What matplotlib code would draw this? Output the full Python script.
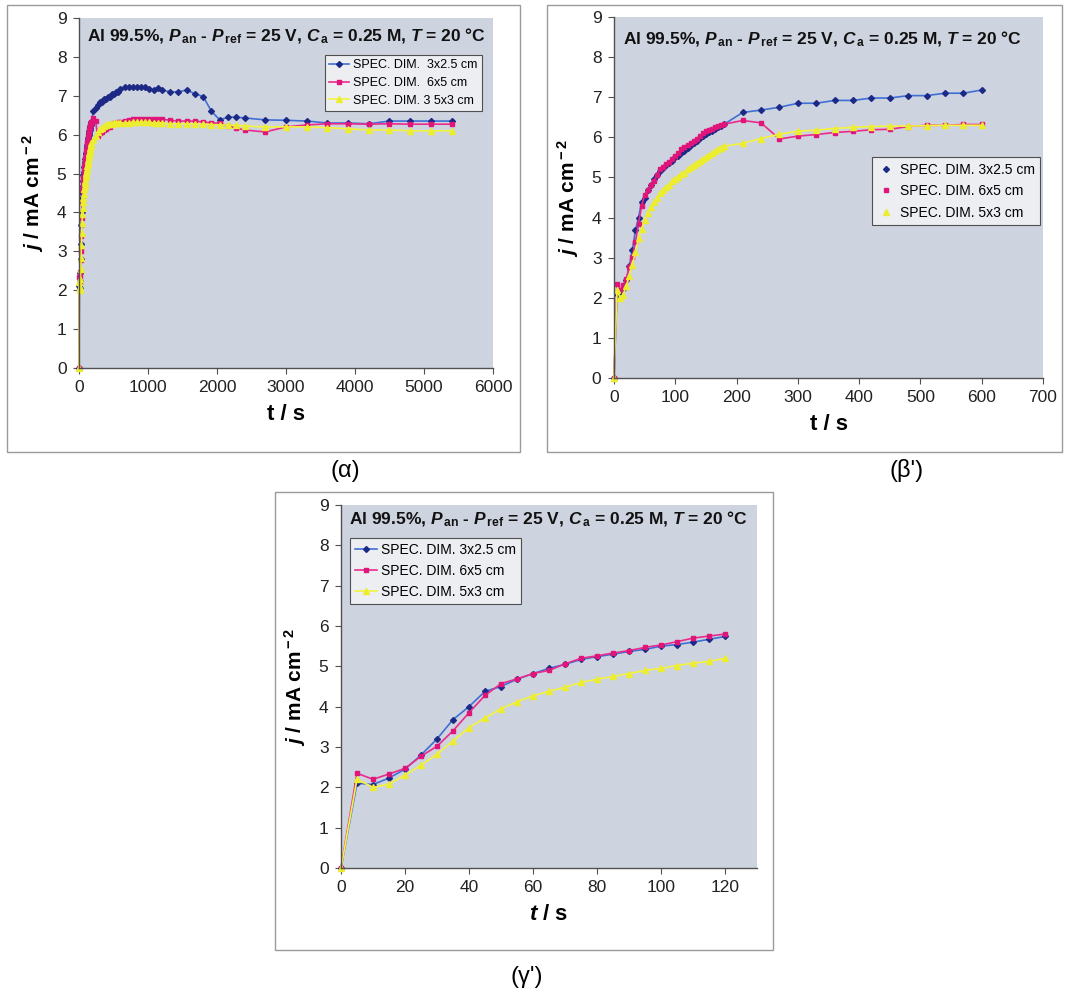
import matplotlib
matplotlib.use("Agg")
import matplotlib.pyplot as plt
from matplotlib.lines import Line2D
from matplotlib.patches import Rectangle

plt.rcParams['font.family'] = ['Liberation Sans', 'DejaVu Sans']
plt.rcParams['mathtext.fontset'] = 'custom'
plt.rcParams['mathtext.rm'] = 'Liberation Sans:bold'
plt.rcParams['mathtext.bf'] = 'Liberation Sans:bold'
plt.rcParams['mathtext.it'] = 'Liberation Sans:italic:bold'

# first 120 s (shared by all runs), 5 s steps
t_short = [0, 5, 10, 15, 20, 25, 30, 35, 40, 45, 50, 55, 60, 65, 70, 75, 80, 85, 90,
           95, 100, 105, 110, 115, 120]
blue_short = [0, 2.1, 2.07, 2.23, 2.45, 2.8, 3.2, 3.68, 4.0, 4.38, 4.5, 4.68, 4.82, 4.95,
              5.05, 5.17, 5.24, 5.3, 5.37, 5.42, 5.5, 5.54, 5.6, 5.67, 5.74]
pink_short = [0, 2.35, 2.2, 2.33, 2.47, 2.77, 3.02, 3.4, 3.85, 4.28, 4.57, 4.69, 4.82, 4.9,
              5.06, 5.2, 5.26, 5.33, 5.39, 5.47, 5.53, 5.61, 5.7, 5.75, 5.8]
yellow_short = [0, 2.2, 2.0, 2.08, 2.3, 2.55, 2.82, 3.15, 3.48, 3.72, 3.95, 4.12, 4.27, 4.38,
                4.48, 4.6, 4.68, 4.75, 4.82, 4.9, 4.95, 5.02, 5.08, 5.12, 5.2]

# 125 - 600 s
t_mid = [125, 130, 135, 140, 145, 150, 155, 160, 165, 170, 175, 180,
         210, 240, 270, 300, 330, 360, 390, 420, 450, 480, 510, 540, 570, 600]
blue_mid = [5.8, 5.86, 5.92, 5.98, 6.04, 6.09, 6.13, 6.17, 6.21, 6.25, 6.29, 6.33,
            6.62, 6.68, 6.75, 6.85, 6.85, 6.92, 6.92, 6.98, 6.98, 7.04, 7.04, 7.1, 7.1, 7.18]
pink_mid = [5.86, 5.92, 5.97, 6.04, 6.1, 6.15, 6.18, 6.22, 6.25, 6.28, 6.3, 6.33,
            6.42, 6.36, 5.96, 6.03, 6.07, 6.12, 6.15, 6.19, 6.2, 6.27, 6.3, 6.3, 6.32, 6.32]
yellow_mid = [5.25, 5.3, 5.36, 5.42, 5.47, 5.52, 5.56, 5.6, 5.65, 5.7, 5.74, 5.78,
              5.85, 5.97, 6.08, 6.15, 6.18, 6.22, 6.25, 6.27, 6.28, 6.28, 6.29, 6.3, 6.3, 6.3]

# 660 - 5400 s
t_long = [660, 720, 780, 840, 900, 960, 1020, 1080, 1140, 1200, 1320, 1440, 1560, 1680,
          1800, 1920, 2040, 2160, 2280, 2400, 2700, 3000, 3300, 3600, 3900, 4200, 4500,
          4800, 5100, 5400]
blue_long = [7.22, 7.23, 7.23, 7.23, 7.23, 7.22, 7.18, 7.15, 7.21, 7.15, 7.1, 7.1, 7.15,
             7.05, 6.98, 6.6, 6.38, 6.45, 6.45, 6.43, 6.38, 6.37, 6.35, 6.3, 6.3, 6.28,
             6.35, 6.35, 6.35, 6.35]
pink_long = [6.36, 6.38, 6.4, 6.4, 6.4, 6.4, 6.4, 6.4, 6.4, 6.4, 6.37, 6.35, 6.35, 6.35,
             6.33, 6.3, 6.3, 6.22, 6.17, 6.12, 6.07, 6.2, 6.25, 6.28, 6.28, 6.27, 6.28,
             6.27, 6.27, 6.27]
yellow_long = [6.3, 6.3, 6.32, 6.32, 6.32, 6.32, 6.32, 6.3, 6.3, 6.3, 6.28, 6.28, 6.28,
               6.28, 6.27, 6.26, 6.25, 6.25, 6.24, 6.22, 6.2, 6.2, 6.2, 6.18, 6.15, 6.12,
               6.12, 6.1, 6.1, 6.1]

labels_a = ["SPEC. DIM.  3x2.5 cm", "SPEC. DIM.  6x5 cm", "SPEC. DIM. 3 5x3 cm"]
labels_bg = ["SPEC. DIM. 3x2.5 cm", "SPEC. DIM. 6x5 cm", "SPEC. DIM. 5x3 cm"]

title = r"Al 99.5%, $P_{\,\rm an}$ - $P_{\,\rm ref}$ = 25 V, $C_{\,\rm a}$ = 0.25 M, $T$ = 20 °C"

line_cols = ['#3f6fd6', '#ea2b8c', '#f4f43c']
mark_cols = ['#1c2a86', '#e0157a', '#eded30']
markers = ['D', 's', '^']
msizes = [3.0, 3.2, 3.8]
bg = '#cdd3df'

W, H = 1074, 992
fig = plt.figure(figsize=(W / 100, H / 100), dpi=100)
fig.patch.set_facecolor('white')


def px_axes(x0, y0, x1, y1):
    return fig.add_axes([x0 / W, 1 - y1 / H, (x1 - x0) / W, (y1 - y0) / H])


def style(ax, xmax, xticks, italic_t, title_y):
    ax.set_facecolor(bg)
    ax.set_xlim(0, xmax)
    ax.set_ylim(0, 9)
    ax.set_xticks(xticks)
    ax.set_yticks(range(10))
    for s in ['top', 'right']:
        ax.spines[s].set_visible(False)
    for s in ['left', 'bottom']:
        ax.spines[s].set_color('#505050')
        ax.spines[s].set_linewidth(1.0)
    ax.tick_params(direction='out', length=4, width=0.8, color='#505050',
                   labelsize=12.5, labelcolor='#222222', pad=5)
    ax.set_ylabel(r"$j$ / mA cm$^{\rm -2}$", fontsize=15, fontweight='bold', labelpad=8)
    ax.set_xlabel(r"$t$ / s" if italic_t else "t / s", fontsize=16, fontweight='bold',
                  labelpad=6)
    ax.text(0.02, title_y, title, transform=ax.transAxes, ha='left', va='top',
            fontsize=12.5, fontweight='bold', color='#111111')


def draw(ax, t, series, labels):
    for i, y in enumerate(series):
        ax.plot(t, y, color=line_cols[i], lw=1.2, marker=markers[i], ms=msizes[i],
                mfc=mark_cols[i], mec=mark_cols[i], label=labels[i], clip_on=False)


def frame(leg):
    leg.get_frame().set_linewidth(0.8)


leg_kw = dict(loc='upper left', borderaxespad=0, fancybox=False, framealpha=1,
              facecolor='#eceef2', edgecolor='#505050')

# (alpha)
ax1 = px_axes(79, 18, 493, 368)
t_a = t_short + t_mid + t_long
draw(ax1, t_a, [blue_short + blue_mid + blue_long,
                pink_short + pink_mid + pink_long,
                yellow_short + yellow_mid + yellow_long], labels_a)
style(ax1, 6000, [0, 1000, 2000, 3000, 4000, 5000, 6000], False, 0.975)
frame(ax1.legend(bbox_to_anchor=(0.594, 0.894), fontsize=9, handlelength=1.6,
                 borderpad=0.35, labelspacing=0.45, handletextpad=0.3, **leg_kw))

# (beta')
ax2 = px_axes(614, 17, 1043, 378)
t_b = t_short + t_mid
draw(ax2, t_b, [blue_short + blue_mid, pink_short + pink_mid,
                yellow_short + yellow_mid], labels_bg)
style(ax2, 700, [0, 100, 200, 300, 400, 500, 600, 700], False, 0.964)
handles = [Line2D([], [], ls='none', marker=markers[i], ms=msizes[i], mfc=mark_cols[i],
                  mec=mark_cols[i]) for i in range(3)]
frame(ax2.legend(handles, labels_bg, bbox_to_anchor=(0.601, 0.612), fontsize=10,
                 handlelength=1.2, borderpad=0.4, labelspacing=0.55, handletextpad=0.4,
                 **leg_kw))

# (gamma')
ax3 = px_axes(341, 505, 757, 868)
draw(ax3, t_short, [blue_short, pink_short, yellow_short], labels_bg)
style(ax3, 130, [0, 20, 40, 60, 80, 100, 120], True, 0.986)
frame(ax3.legend(bbox_to_anchor=(0.022, 0.909), fontsize=10, handlelength=1.6,
                 borderpad=0.35, labelspacing=0.5, handletextpad=0.3, **leg_kw))

# chart-area frames
for (x0, y0, x1, y1) in [(7, 5, 520, 452), (547, 5, 1062, 452), (275, 492, 773, 950)]:
    fig.patches.append(Rectangle((x0 / W, 1 - y1 / H), (x1 - x0) / W, (y1 - y0) / H,
                                 transform=fig.transFigure, fill=False,
                                 edgecolor='#9a9a9a', lw=1.0))

# captions
fig.text(345 / W, 1 - 471 / H, "(α)", ha='center', va='center', fontsize=17)
fig.text(907 / W, 1 - 471 / H, "(β')", ha='center', va='center', fontsize=17)
fig.text(527 / W, 1 - 977 / H, "(γ')", ha='center', va='center', fontsize=17)

fig.savefig("out.png", dpi=100)
